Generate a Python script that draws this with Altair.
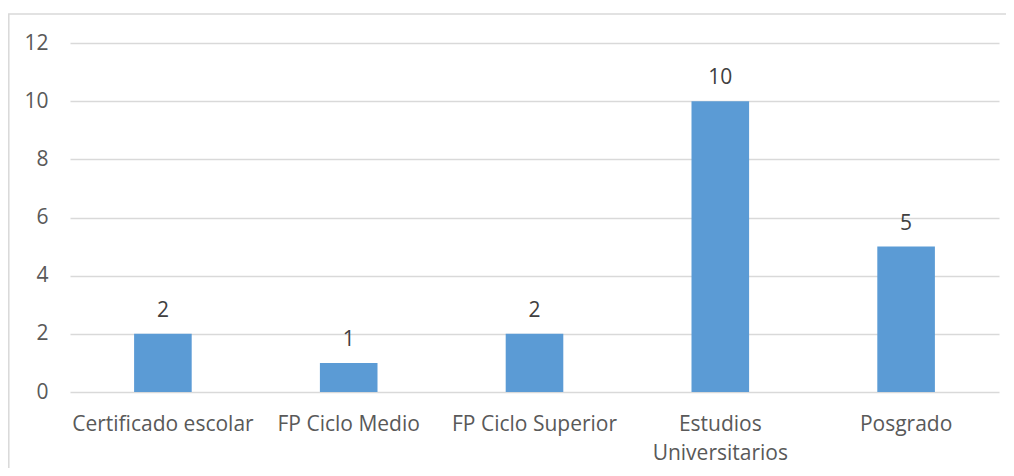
import altair as alt
import pandas as pd

categories = ["Certificado escolar", "FP Ciclo Medio", "FP Ciclo Superior",
              "Estudios Universitarios", "Posgrado"]
values = [2, 1, 2, 10, 5]
y_ticks = [0, 2, 4, 6, 8, 10, 12]

df = pd.DataFrame({"cat": categories, "val": values})

FONT = "Open Sans"
FS = 21

x_enc = alt.X(
    "cat:N", sort=categories, title=None,
    scale=alt.Scale(paddingInner=0.69, paddingOuter=0.345),
    axis=alt.Axis(
        labelAngle=0, ticks=False, domain=False, grid=False,
        labelFont=FONT, labelFontSize=FS, labelColor="#595959",
        labelPadding=21, labelBaseline="top", labelLineHeight=29,
        labelLimit=400,
        labelExpr="datum.label == 'Estudios Universitarios' ? ['Estudios', 'Universitarios'] : datum.label",
    ),
)
y_enc = alt.Y(
    "val:Q", title=None,
    scale=alt.Scale(domain=[0, 12], nice=False),
    axis=alt.Axis(
        values=y_ticks, ticks=False, domain=False, grid=True,
        gridColor="#d9d9d9", gridWidth=1.5,
        labelFont=FONT, labelFontSize=FS, labelColor="#595959",
        labelPadding=22,
    ),
)

border = alt.Chart(alt.Data(values=[{"a": 1}])).mark_rect(
    filled=False, stroke="#d9d9d9", strokeWidth=1.5
).encode(
    x=alt.value(-61.2), x2=alt.value(980),
    y=alt.value(-29), y2=alt.value(460),
)

bars = alt.Chart(df).mark_bar(color="#5B9BD5").encode(x=x_enc, y=y_enc)

labels = alt.Chart(df).mark_text(
    font=FONT, fontSize=FS, color="#404040", baseline="alphabetic", dy=-17
).encode(
    x=alt.X("cat:N", sort=categories),
    y=alt.Y("val:Q"),
    text="val:Q",
)

chart = alt.layer(border, bars, labels).properties(
    width=929, height=349,
    background="white",
    autosize=alt.AutoSizeParams(type="none"),
    padding={"left": 62, "top": 35, "right": 7, "bottom": 76},
).configure_view(stroke="transparent", strokeWidth=0).configure_axis(
    domain=False
)

chart.save("out.html", embed_options={"renderer": "svg", "actions": False})
